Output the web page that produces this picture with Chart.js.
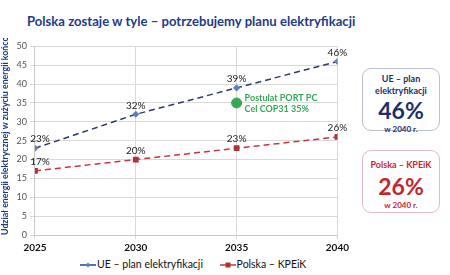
<!DOCTYPE html>
<html>
<head>
<meta charset="utf-8">
<script src="https://cdn.jsdelivr.net/npm/chart.js@4"></script>
<style>
  body { margin: 0; width: 450px; height: 275px; background: #fff; font-family: "Lato", sans-serif; position: relative; overflow: hidden; }
  .title { position: absolute; left: 27px; top: 13px; font-size: 13.1px; font-weight: bold; color: #1f3b87; white-space: nowrap; }
  .chart-wrap { position: absolute; left: 0; top: 38px; width: 352px; height: 219px; }
  .legend { position: absolute; top: 258px; left: 80px; font-size: 10.5px; color: #111; white-space: nowrap; }
  .legend span.item { margin-right: 14px; }
  .legend svg { vertical-align: middle; margin-right: 1px; }
  .box { position: absolute; left: 362px; width: 76px; border-radius: 9px; text-align: center; font-weight: bold; }
  .box .head { font-size: 9px; line-height: 12px; }
  .box .big { font-size: 23px; line-height: 26px; }
  .box .foot { font-size: 8px; line-height: 12px; }
  .box.ue { top: 68px; height: 61px; border: 1px solid #b9c0d3; color: #1c2f6b; }
  .box.pl { top: 150px; height: 61px; border: 1px solid #e5b9bf; color: #c4262e; }
</style>
</head>
<body>
<div class="title">Polska zostaje w tyle – potrzebujemy planu elektryfikacji</div>
<div class="chart-wrap"><canvas id="chart"></canvas></div>
<div class="legend">
  <span class="item"><svg width="16" height="8"><line x1="0" y1="4" x2="16" y2="4" stroke="#2b3f86" stroke-width="1.5"/><path d="M8 1.5 L10.5 4 L8 6.5 L5.5 4 Z" fill="#5b7fc0"/></svg>UE – plan elektryfikacji</span>
  <span class="item"><svg width="16" height="8"><line x1="0" y1="4" x2="16" y2="4" stroke="#c0393b" stroke-width="1.5"/><rect x="5.5" y="1.5" width="5" height="5" fill="#b23234"/></svg>Polska – KPEiK</span>
</div>
<div class="box ue">
  <div class="head" style="margin-top:4px">UE – plan<br>elektryfikacji</div>
  <div class="big">46%</div>
  <div class="foot">w 2040 r.</div>
</div>
<div class="box pl">
  <div class="head" style="margin-top:8px">Polska – KPEiK</div>
  <div class="big" style="margin-top:2px">26%</div>
  <div class="foot">w 2040 r.</div>
</div>
<script>
const years = [2025, 2030, 2035, 2040];
const ueValues = [23, 32, 39, 46];
const plValues = [17, 20, 23, 26];
const postulatYear = [2035];
const postulatValue = [35];
const postulatLines = ["Postulat PORT PC", "Cel COP31 35%"];
const yTicks = [0, 5, 10, 15, 20, 25, 30, 35, 40, 45, 50];

const toPoints = (xs, ys) => xs.map((x, i) => ({ x, y: ys[i] }));

const valueLabels = {
  id: "valueLabels",
  afterDatasetsDraw(chart) {
    const ctx = chart.ctx;
    ctx.save();
    ctx.font = "10px Lato";
    ctx.fillStyle = "#222";
    ctx.textAlign = "center";
    ctx.textBaseline = "bottom";
    [0, 1].forEach((di) => {
      const meta = chart.getDatasetMeta(di);
      meta.data.forEach((pt, i) => {
        const v = chart.data.datasets[di].data[i].y;
        const dx = i === 0 ? 5 : 0;
        ctx.fillText(v + "%", pt.x + dx, pt.y - 4);
      });
    });
    const gp = chart.getDatasetMeta(2).data[0];
    ctx.font = "bold 9px Lato";
    ctx.fillStyle = "#34a853";
    ctx.textAlign = "left";
    ctx.textBaseline = "middle";
    ctx.fillText(postulatLines[0], gp.x + 8, gp.y - 5);
    ctx.fillText(postulatLines[1], gp.x + 8, gp.y + 6);
    ctx.restore();
  },
};

new Chart(document.getElementById("chart"), {
  type: "line",
  data: {
    datasets: [
      {
        label: "UE – plan elektryfikacji",
        data: toPoints(years, ueValues),
        borderColor: "#2b3a6e",
        borderWidth: 1.5,
        borderDash: [6, 4],
        pointStyle: "rectRot",
        pointRadius: 2.5,
        pointBackgroundColor: "#5b7fc0",
        pointBorderColor: "#5b7fc0",
        tension: 0,
      },
      {
        label: "Polska – KPEiK",
        data: toPoints(years, plValues),
        borderColor: "#c9363a",
        borderWidth: 1.5,
        borderDash: [6, 4],
        pointStyle: "rect",
        pointRadius: 3,
        pointBackgroundColor: "#b23234",
        pointBorderColor: "#b23234",
        tension: 0,
      },
      {
        label: "Postulat",
        data: toPoints(postulatYear, postulatValue),
        showLine: false,
        pointRadius: 5,
        pointBackgroundColor: "#34a853",
        pointBorderColor: "#34a853",
      },
    ],
  },
  options: {
    responsive: true,
    maintainAspectRatio: false,
    animation: false,
    layout: { padding: { top: 8, right: 12, left: 0, bottom: 0 } },
    plugins: { legend: { display: false }, tooltip: { enabled: false } },
    scales: {
      x: {
        type: "linear",
        min: years[0],
        max: years[years.length - 1],
        afterBuildTicks: (axis) => { axis.ticks = years.map((v) => ({ value: v })); },
        grid: { color: "#d9d9d9", tickLength: 4 },
        border: { color: "#c8c8c8" },
        ticks: { color: "#111", font: { family: "Lato", size: 10, weight: "bold" }, padding: 3, callback: (v) => String(v) },
      },
      y: {
        min: 0,
        max: 50,
        afterBuildTicks: (axis) => { axis.ticks = yTicks.map((v) => ({ value: v })); },
        grid: { color: "#d9d9d9", tickLength: 5 },
        border: { color: "#c8c8c8" },
        ticks: { color: "#555", font: { family: "Lato", size: 9 }, padding: 3 },
        title: {
          display: true,
          align: "start",
          text: "Udział energii elektrycznej w zużyciu energii końcowej [%]",
          color: "#1f3b87",
          font: { family: "Lato", size: 8.8, weight: "bold" },
          padding: { top: 0, bottom: 3 },
        },
      },
    },
  },
  plugins: [valueLabels],
});
</script>
</body>
</html>
